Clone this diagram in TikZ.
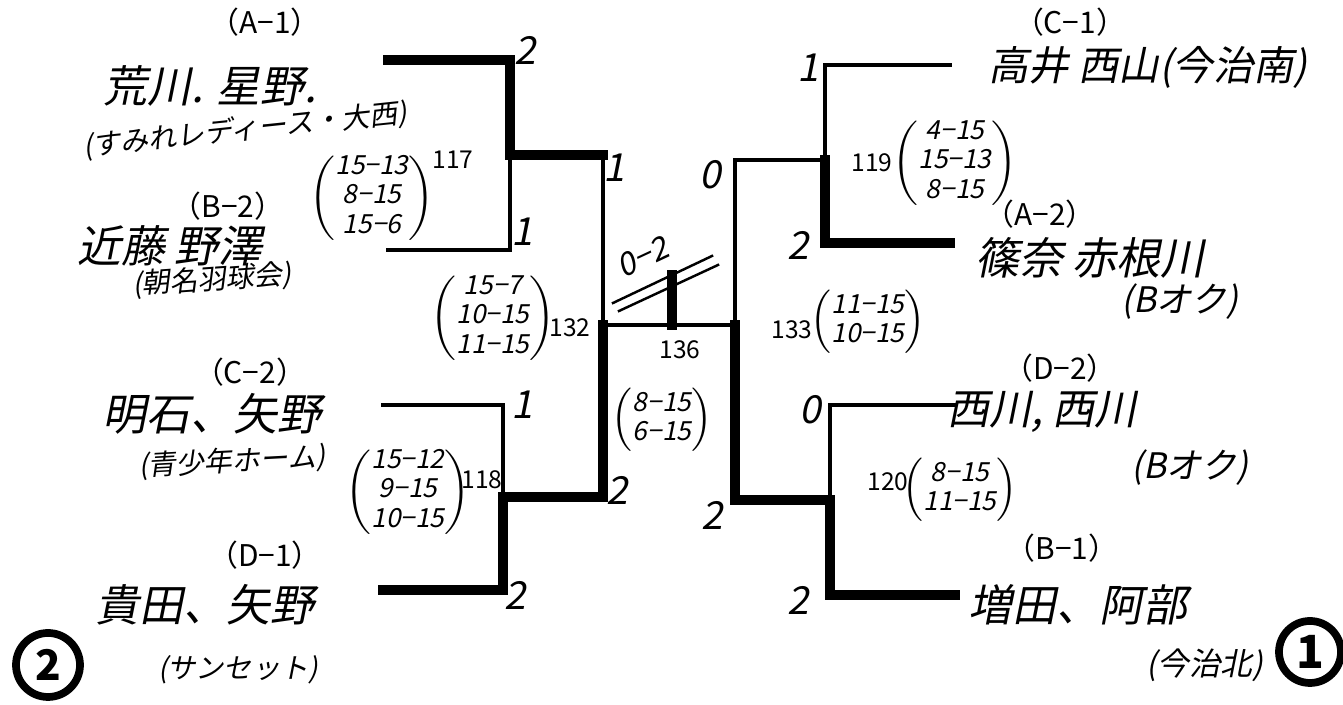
\documentclass[tikz,border=0pt]{standalone}
\usepackage{fontspec}
\setmainfont{Noto Sans CJK JP}
\newfontfamily\handfont[FakeSlant=0.2]{Noto Sans CJK JP}

\begin{document}
\begin{tikzpicture}[x=0.1mm,y=-0.1mm,line cap=rect,
  win/.style={line width=2.6pt},
  lose/.style={line width=1.4pt},
  pool/.style={font=\fontsize{8.5}{10}\selectfont,inner sep=0pt},
  pair/.style={font=\handfont\fontsize{12.5}{14}\selectfont,inner sep=0pt},
  club/.style={font=\handfont\fontsize{8}{10}\selectfont,inner sep=0pt},
  pts/.style={font=\handfont\fontsize{11}{12}\selectfont,inner sep=1pt},
  game/.style={font=\handfont\fontsize{7.5}{8.5}\selectfont,inner sep=0pt},
  gno/.style={font=\fontsize{7}{8}\selectfont,inner sep=0pt}]

\useasboundingbox (0,0) rectangle (1343,705);

% bracket points, left half
\coordinate (pA1) at (388,60);    \coordinate (pB2) at (388,250);
\coordinate (pC2) at (383,405);   \coordinate (pD1) at (383,590);
\coordinate (k117t) at (510,60);  \coordinate (k117) at (510,155);  \coordinate (k117b) at (510,250);
\coordinate (k118t) at (503,405); \coordinate (k118) at (503,497);  \coordinate (k118b) at (503,590);
\coordinate (k132t) at (603,155); \coordinate (k132) at (603,325);  \coordinate (k132b) at (603,497);
% bracket points, right half
\coordinate (pC1) at (950,65);    \coordinate (pA2) at (950,243);
\coordinate (pD2) at (955,405);   \coordinate (pB1) at (955,595);
\coordinate (k119t) at (825,65);  \coordinate (k119) at (825,160);  \coordinate (k119b) at (825,243);
\coordinate (k120t) at (830,405); \coordinate (k120) at (830,500);  \coordinate (k120b) at (830,595);
\coordinate (k133t) at (735,160); \coordinate (k133) at (735,325);  \coordinate (k133b) at (735,500);
% final
\coordinate (k136) at (672,325);  \coordinate (champ) at (672,275);

\draw[win] (pA1) -- (k117t) -- (k117);
\draw[lose] (k117) -- (k117b) -- (pB2);
\draw[win] (k117) -- (k132t);
\draw[lose] (k132t) -- (k132);
\draw[win] (k132) -- (k132b) -- (k118);
\draw[lose] (pC2) -- (k118t) -- (k118);
\draw[win] (k118) -- (k118b) -- (pD1);

\draw[lose] (pC1) -- (k119t) -- (k119);
\draw[win] (k119) -- (k119b) -- (pA2);
\draw[lose] (k119) -- (k133t) -- (k133);
\draw[win] (k133) -- (k133b) -- (k120);
\draw[lose] (pD2) -- (k120t) -- (k120);
\draw[win] (k120) -- (k120b) -- (pB1);

\draw[lose] (k132) -- (k133);
\draw[win] (k136) -- (champ);

% teams, left
\node[pool] (lA1) at (265,22) {（A−1）};
\node[pair] (tA1) at (210,86) {荒川. 星野.};
\node[club,rotate=6] (cA1) at (245,130) {(すみれレディース・大西)};
\node[pool] (lB2) at (228,206) {（B−2）};
\node[pair] (tB2) at (170,246) {近藤 野澤};
\node[club,rotate=4] (cB2) at (212,280) {(朝名羽球会)};
\node[pool] (lC2) at (250,372) {（C−2）};
\node[pair] (tC2) at (212,414) {明石、矢野};
\node[club,rotate=3] (cC2) at (232,462) {(青少年ホーム)};
\node[pool] (lD1) at (265,555) {（D−1）};
\node[pair] (tD1) at (205,605) {貴田、矢野};
\node[club] (cD1) at (238,670) {(サンセット)};
\node[circle,draw,line width=2.2pt,minimum size=6.4mm,inner sep=0pt,
      font=\fontsize{12}{12}\selectfont\bfseries] (rk2) at (48,665) {2};

% teams, right
\node[pool] (lC1) at (1070,22) {（C−1）};
\node[pair,font=\handfont\fontsize{11.5}{13}\selectfont] (tC1) at (1148,67) {高井 西山(今治南)};
\node[pool] (lA2) at (1040,214) {（A−2）};
\node[pair] (tA2) at (1090,258) {篠奈 赤根川};
\node[club,font=\handfont\fontsize{10}{11}\selectfont] (cA2) at (1180,302) {(Bオク)};
\node[pool] (lD2) at (1060,368) {（D−2）};
\node[pair,font=\handfont\fontsize{12}{13}\selectfont] (tD2) at (1042,412) {西川, 西川};
\node[club,font=\handfont\fontsize{10}{11}\selectfont] (cD2) at (1190,468) {(Bオク)};
\node[pool] (lB1) at (1062,548) {（B−1）};
\node[pair] (tB1) at (1078,605) {増田、阿部};
\node[club,font=\handfont\fontsize{9}{10}\selectfont] (cB1) at (1205,665) {(今治北)};
\node[circle,draw,line width=2.2pt,minimum size=6.2mm,inner sep=0pt,
      font=\fontsize{13}{13}\selectfont\bfseries] (rk1) at (1310,652) {1};

% games won
\node[pts] (s117a) at (525,50) {2};
\node[pts] (s117b) at (522,232) {1};
\node[pts] (s132a) at (614,168) {1};
\node[pts] (s118a) at (522,405) {1};
\node[pts] (s118b) at (515,595) {2};
\node[pts] (s132b) at (617,490) {2};
\node[pts] (s133a) at (710,175) {0};
\node[pts] (s119b) at (798,245) {2};
\node[pts] (s119a) at (808,68) {1};
\node[pts] (s120a) at (810,410) {0};
\node[pts] (s133b) at (712,515) {2};
\node[pts] (s120b) at (798,600) {2};

% game scores
\node[game] (g117) at (372,198) {$\left(\begin{tabular}{@{}c@{}}15−13\\8−15\\15−6\end{tabular}\right)$};
\node[gno] (n117) at (453,160) {117};
\node[game] (g132) at (493,318) {$\left(\begin{tabular}{@{}c@{}}15−7\\10−15\\11−15\end{tabular}\right)$};
\node[gno] (n132) at (570,328) {132};
\node[game] (g118) at (408,492) {$\left(\begin{tabular}{@{}c@{}}15−12\\9−15\\10−15\end{tabular}\right)$};
\node[gno] (n118) at (482,480) {118};
\node[gno] (n136) at (680,350) {136};
\node[game] (g136) at (662,420) {$\left(\begin{tabular}{@{}c@{}}8−15\\6−15\end{tabular}\right)$};
\node[gno] (n119) at (872,163) {119};
\node[game] (g119) at (955,163) {$\left(\begin{tabular}{@{}c@{}}4−15\\15−13\\8−15\end{tabular}\right)$};
\node[gno] (n133) at (792,330) {133};
\node[game] (g133) at (868,322) {$\left(\begin{tabular}{@{}c@{}}11−15\\10−15\end{tabular}\right)$};
\node[gno] (n120) at (888,482) {120};
\node[game] (g120) at (960,490) {$\left(\begin{tabular}{@{}c@{}}8−15\\11−15\end{tabular}\right)$};

% final result
\node[pts,rotate=25,font=\handfont\fontsize{9}{10}\selectfont] (r136) at (643,257) {0−2};
\draw[line width=0.7pt] (613,303) -- (712,256);
\draw[line width=0.7pt] (619,311) -- (718,265);

\end{tikzpicture}
\end{document}
